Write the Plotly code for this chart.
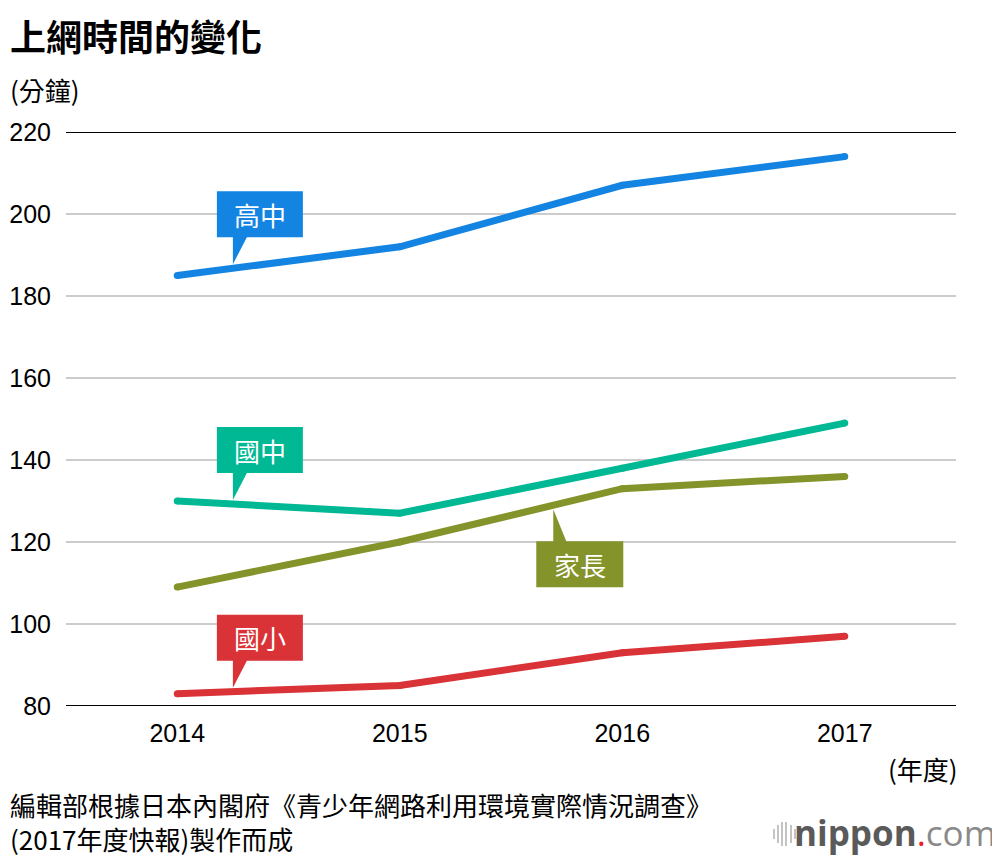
import numpy as np
import plotly.graph_objects as go

years = [2014, 2015, 2016, 2017]
series_names = ["高中", "國中", "家長", "國小"]
senior_high = [185, 192, 207, 214]
junior_high = [130, 127, 138, 149]
parents = [109, 120, 133, 136]
elementary = [83, 85, 93, 97]
y_ticks = [80, 100, 120, 140, 160, 180, 200, 220]

colors = {"高中": "#1484e2", "國中": "#00b893", "家長": "#84932a", "國小": "#d93237"}
values = {"高中": senior_high, "國中": junior_high, "家長": parents, "國小": elementary}

# callout anchor year (on the line) and whether the box sits above or below
callout_x = {"高中": 2014.25, "國中": 2014.25, "家長": 2015.69, "國小": 2014.25}
callout_above = {"高中": True, "國中": True, "家長": False, "國小": True}

CJK = "Noto Sans CJK TC"
NUM = "Liberation Sans, Arial, sans-serif"

fig = go.Figure()

for name in series_names:
    fig.add_trace(go.Scatter(
        x=years, y=values[name], mode="lines+markers",
        line=dict(color=colors[name], width=7),
        marker=dict(color=colors[name], size=7, line=dict(width=0)),
        hoverinfo="skip", showlegend=False,
    ))

shapes = []
annotations = []

# black top/bottom rules
for yv in (y_ticks[0], y_ticks[-1]):
    shapes.append(dict(type="line", xref="paper", yref="y", x0=0, x1=1, y0=yv, y1=yv,
                       line=dict(color="#000000", width=2), layer="between"))

# callouts
for name in series_names:
    ax = callout_x[name]
    ay = float(np.interp(ax, years, values[name]))
    c = colors[name]
    if callout_above[name]:
        tip, b0, b1 = 4, 31, 77
        path = (f"M0,{tip} L14,{b0} L70,{b0} L70,{b1} L-16,{b1} L-16,{b0} L0,{b0} Z")
        tx, ty = 27, (b0 + b1) / 2
    else:
        tip, b0, b1 = -4, -36, -82
        path = (f"M0,{tip} L13,{b0} L70,{b0} L70,{b1} L-17,{b1} L-17,{b0} L0,{b0} Z")
        tx, ty = 26.5, (b0 + b1) / 2
    shapes.append(dict(type="path", xref="x", yref="y", xsizemode="pixel", ysizemode="pixel",
                       xanchor=ax, yanchor=ay, path=path, fillcolor=c,
                       line=dict(width=0), layer="between"))
    annotations.append(dict(x=ax, y=ay, xref="x", yref="y", text=name, showarrow=False,
                            xshift=tx, yshift=ty, xanchor="center", yanchor="middle",
                            font=dict(family=CJK, size=26, color="#ffffff")))

# page texts, positioned in page pixels (converted to paper coords below)
page_texts = [
    dict(x=8, y=35, text="<b>上網時間的變化</b>", xanchor="left", yanchor="middle",
         font=dict(family=CJK, size=36, color="#000000")),
    dict(x=8, y=89, text="(分鐘)", xanchor="left", yanchor="middle",
         font=dict(family=CJK, size=26, color="#000000")),
    dict(x=960, y=768, text="(年度)", xanchor="right", yanchor="middle",
         font=dict(family=CJK, size=26, color="#000000")),
    dict(x=8, y=821,
         text="編輯部根據日本內閣府《青少年網路利用環境實際情況調查》<br>(2017年度快報)製作而成",
         xanchor="left", yanchor="middle", align="left",
         font=dict(family=CJK, size=26, color="#000000")),
    dict(x=998, y=832,
         text="<b>nippon</b><span style='color:#e8202a'>.</span><span style='color:#8a8a8a'>com</span>",
         xanchor="right", yanchor="middle",
         font=dict(family="Open Sans, sans-serif", size=35, color="#5a5a5a")),
]

W, H = 1000, 856
OFF = 8  # browser body margin
L, R, T, B = 66, 44, 132, 150
pw, ph = W - L - R, H - T - B
for a in page_texts:
    a.update(xref="paper", yref="paper", showarrow=False,
             x=(a["x"] - L) / pw, y=(H - B - a["y"]) / ph)
    annotations.append(a)

# logo bars
bar_x = [774, 778, 782, 786, 791, 795]
bar_h = [10, 18, 24, 24, 18, 10]
for bx, bh in zip(bar_x, bar_h):
    shapes.append(dict(type="line", xref="paper", yref="paper",
                       x0=(bx - L) / pw, x1=(bx - L) / pw,
                       y0=(H - B - (834 + bh / 2)) / ph, y1=(H - B - (834 - bh / 2)) / ph,
                       line=dict(color="#b5b5b5", width=1.6)))

fig.update_layout(
    width=W - OFF, height=H - OFF,
    margin=dict(l=L - OFF, r=R, t=T - OFF, b=B, pad=0, autoexpand=False),
    paper_bgcolor="#ffffff", plot_bgcolor="#ffffff",
    shapes=shapes, annotations=annotations,
    xaxis=dict(range=[2013.5, 2017.5], tickvals=years, ticktext=[str(y) for y in years],
               showgrid=False, zeroline=False, showline=False, ticks="", automargin=False,
               ticklabelstandoff=10,
               tickfont=dict(family=NUM, size=25, color="#000000"), fixedrange=True),
    yaxis=dict(range=[80, 220], tickvals=y_ticks, showgrid=True, gridcolor="#cccccc",
               gridwidth=2, zeroline=False, showline=False, ticks="", automargin=False,
               ticklabelstandoff=14,
               tickfont=dict(family=NUM, size=25, color="#000000"), fixedrange=True),
    showlegend=False,
)

fig.write_html("out.html", config={"displayModeBar": False})
